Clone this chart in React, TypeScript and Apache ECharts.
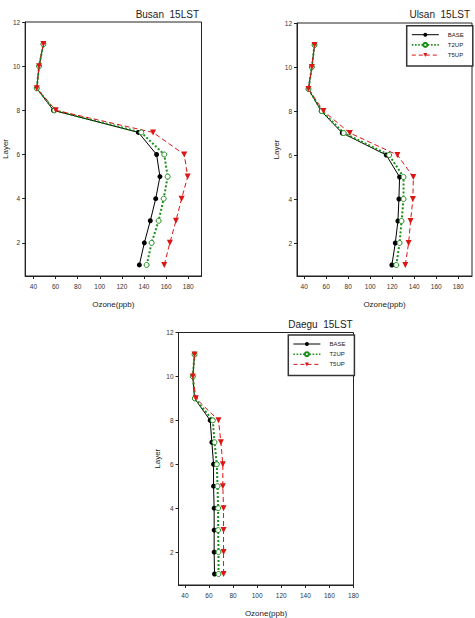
import React, { useEffect, useRef } from "react";
import * as echarts from "echarts";

const layers = [1, 2, 3, 4, 5, 6, 7, 8, 9, 10, 11];
const seriesNames = ["BASE", "T2UP", "T5UP"];
const xTicks = [40, 60, 80, 100, 120, 140, 160, 180];
const yTicks = [2, 4, 6, 8, 10, 12];
const panelTitles = ["Busan  15LST", "Ulsan  15LST", "Daegu  15LST"];

const busanBase = [135.8, 140.3, 145.7, 150.6, 154.4, 151.4, 134.9, 58.1, 43.0, 45.1, 49.0];
const busanT2 = [142.4, 146.9, 153.2, 157.8, 161.4, 158.3, 137.5, 59.0, 43.0, 45.1, 49.0];
const busanT5 = [158.3, 163.4, 168.9, 174.0, 179.5, 176.4, 148.2, 60.2, 43.0, 45.1, 49.0];

const ulsanBase = [119.7, 122.8, 125.2, 126.1, 126.7, 114.6, 74.6, 55.5, 43.9, 47.0, 49.4];
const ulsanT2 = [123.7, 126.7, 128.5, 130.3, 130.3, 117.2, 76.0, 56.0, 43.9, 47.0, 49.4];
const ulsanT5 = [131.9, 134.9, 136.7, 138.8, 139.2, 124.7, 81.5, 57.5, 43.9, 47.0, 49.4];

const daeguBase = [64.6, 64.3, 64.3, 64.3, 63.8, 63.8, 62.4, 61.0, 48.0, 46.6, 48.0];
const daeguT2 = [67.9, 67.9, 67.6, 67.6, 67.1, 66.5, 64.6, 63.2, 48.3, 46.6, 48.0];
const daeguT5 = [72.1, 72.1, 72.1, 72.1, 71.5, 71.5, 69.9, 67.9, 49.1, 46.6, 48.0];

const FONT = "'Liberation Sans', Arial, sans-serif";
const GREEN = "#1a8f1a";
const RED = "#dd1515";

const pairs = (vals: number[]) => vals.map((v, i) => [v, layers[i]]);

const grids = [
  { left: 25, top: 22, width: 176.5, height: 254, xmin: 32.5, xmax: 192, yGap: 16 },
  { left: 297, top: 23, width: 175, height: 253, xmin: 33.5, xmax: 192.5, yGap: 17 },
  { left: 178.5, top: 332.5, width: 175, height: 252.5, xmin: 34.7, xmax: 180, yGap: 17 },
];

const panelData = [
  [busanBase, busanT2, busanT5],
  [ulsanBase, ulsanT2, ulsanT5],
  [daeguBase, daeguT2, daeguT5],
];

const titlePos = [
  [199, 14],
  [470, 14],
  [352.7, 324],
];

export default function App() {
  const ref = useRef<HTMLDivElement>(null);
  useEffect(() => {
    if (!ref.current) return;
    const chart = echarts.init(ref.current, undefined, { renderer: "svg" });
    const series: any[] = [];
    panelData.forEach((sets, gi) => {
      sets.forEach((vals, si) => {
        const base: any = {
          name: seriesNames[si],
          type: "line",
          xAxisIndex: gi,
          yAxisIndex: gi,
          data: pairs(vals),
          clip: false,
        };
        if (si === 0) {
          Object.assign(base, {
            symbol: "circle",
            symbolSize: 5,
            itemStyle: { color: "#000" },
            lineStyle: { color: "#000", width: 1, type: "solid" },
          });
        } else if (si === 1) {
          Object.assign(base, {
            symbol: "circle",
            symbolSize: 5,
            itemStyle: { color: "#fff", borderColor: GREEN, borderWidth: 1 },
            lineStyle: { color: GREEN, width: 2, type: "dotted" },
          });
        } else {
          Object.assign(base, {
            symbol: "triangle",
            symbolRotate: 180,
            symbolSize: 6,
            itemStyle: { color: RED },
            lineStyle: { color: RED, width: 1, type: [5, 3] },
          });
        }
        series.push(base);
      });
    });

    const legendData = [
      { name: "BASE", lineStyle: { width: 1, color: "#000" } },
      { name: "T2UP", lineStyle: { width: 1.6, color: GREEN, type: "dotted" } },
      { name: "T5UP", lineStyle: { width: 1, color: RED, type: [4, 3] }, symbolRotate: 180 },
    ];

    const legendCommon = {
      orient: "vertical",
      data: legendData,
      itemWidth: 27,
      itemHeight: 5,
      itemGap: 4.2,
      padding: [6, 9, 8, 4.3],
      borderColor: "#333",
      borderWidth: 1.5,
      backgroundColor: "#fff",
      textStyle: {
        fontSize: 6,
        lineHeight: 5,
        color: "#222",
        fontFamily: FONT,
        padding: [0, 0, 0, 4],
      },
      selectedMode: false,
    };

    chart.setOption({
      animation: false,
      grid: grids.map((g) => ({
        left: g.left,
        top: g.top,
        width: g.width,
        height: g.height,
        show: true,
        borderColor: "#222",
        borderWidth: 1,
        backgroundColor: "transparent",
        containLabel: false,
      })),
      xAxis: grids.map((g, i) => ({
        type: "value",
        gridIndex: i,
        min: g.xmin,
        max: g.xmax,
        name: "Ozone(ppb)",
        nameLocation: "middle",
        nameGap: 24,
        nameTextStyle: { fontSize: 8, color: "#222", fontFamily: FONT },
        axisLine: { show: true, onZero: false, lineStyle: { color: "#222", width: 1 } },
        axisTick: { show: true, length: 3, inside: false, customValues: xTicks, lineStyle: { color: "#222" } },
        axisLabel: { customValues: xTicks, fontSize: 6.5, color: "#333", margin: 7, fontFamily: FONT },
        splitLine: { show: false },
      })),
      yAxis: grids.map((g, i) => ({
        type: "value",
        gridIndex: i,
        min: 0.5,
        max: 12,
        name: "Layer",
        nameLocation: "middle",
        nameGap: g.yGap,
        nameTextStyle: { fontSize: 8, color: "#222", fontFamily: FONT },
        axisLine: { show: true, onZero: false, lineStyle: { color: "#222", width: 1 } },
        axisTick: { show: true, length: 3, inside: false, customValues: yTicks, lineStyle: { color: "#222" } },
        axisLabel: { customValues: yTicks, fontSize: 6.5, color: "#333", margin: 5, fontFamily: FONT },
        splitLine: { show: false },
      })),
      legend: [
        { ...legendCommon, left: 406.7, top: 25.7 },
        { ...legendCommon, left: 288.3, top: 335 },
      ],
      graphic: panelTitles.map((t, i) => ({
        type: "text",
        x: titlePos[i][0],
        y: titlePos[i][1],
        style: {
          text: t,
          align: "right",
          verticalAlign: "middle",
          textAlign: "right",
          textVerticalAlign: "middle",
          fontSize: 10,
          fontFamily: FONT,
          fill: "#222",
        },
      })),
      series,
    });
    return () => chart.dispose();
  }, []);
  return (
    <div
      ref={ref}
      style={{ position: "absolute", left: 0, top: 0, width: 475, height: 618, background: "#fff" }}
    />
  );
}
